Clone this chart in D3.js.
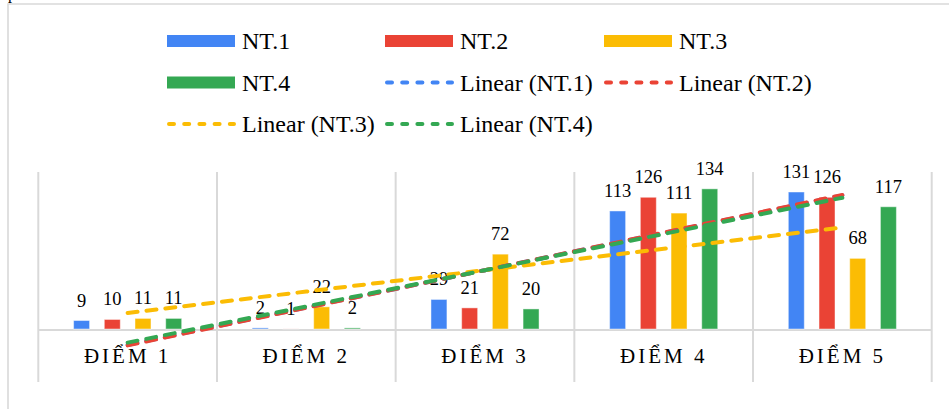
<!DOCTYPE html>
<html>
<head>
<meta charset="utf-8">
<script src="https://cdn.jsdelivr.net/npm/d3@7"></script>
<style>
  html, body { margin: 0; padding: 0; background: #ffffff; }
  svg { display: block; }
  svg text { font-family: 'Liberation Serif', 'Times New Roman', 'DejaVu Serif', serif !important; }
</style>
</head>
<body>
<svg id="chart" width="949" height="409"></svg>
<script>
// ---- data ----
const categories = ["ĐIỂM 1", "ĐIỂM 2", "ĐIỂM 3", "ĐIỂM 4", "ĐIỂM 5"];
const seriesNames = ["NT.1", "NT.2", "NT.3", "NT.4"];
const nt1 = [9, 2, 29, 113, 131];
const nt2 = [10, 1, 21, 126, 126];
const nt3 = [11, 22, 72, 111, 68];
const nt4 = [11, 2, 20, 134, 117];
const seriesColors = ["#4285F4", "#EA4335", "#FBBC04", "#34A853"];

const seriesValues = [nt1, nt2, nt3, nt4];
const series = seriesNames.map((name, i) => ({ name, values: seriesValues[i], color: seriesColors[i] }));

const FONT = "'Liberation Serif', 'Times New Roman', serif";
const svg = d3.select("#chart");

// stray text fragment at the top-left corner
svg.append("text").attr("x", 8).attr("y", -1).attr("font-size", 16)
  .style("font-family", FONT).attr("fill", "#000").text("p");

// outer frame
svg.append("path")
  .attr("d", "M8,420 L8,4 L960,4")
  .attr("fill", "none").attr("stroke", "#d9d9d9").attr("stroke-width", 1.6);

// ---- scales ----
const plotLeft = 38.3, plotRight = 931.7, plotTop = 172, baseY = 330, gridBottom = 382;
const x = d3.scaleBand().domain(categories).range([plotLeft, plotRight]).padding(0);
const x1 = d3.scaleBand().domain(seriesNames).range([0, x.bandwidth()])
  .paddingInner(0.48).paddingOuter(1.15);
const y = d3.scaleLinear().domain([0, 150]).range([baseY, plotTop]);

// ---- gridlines ----
const bounds = categories.map(c => x(c)).concat([plotRight]);
svg.append("g").selectAll("line").data(bounds).join("line")
  .attr("x1", d => d).attr("x2", d => d)
  .attr("y1", plotTop).attr("y2", gridBottom)
  .attr("stroke", "#d9d9d9").attr("stroke-width", 2);
svg.append("line")
  .attr("x1", plotLeft).attr("x2", plotRight)
  .attr("y1", y(0)).attr("y2", y(0))
  .attr("stroke", "#d9d9d9").attr("stroke-width", 2);

// ---- bars ----
const groups = svg.append("g").selectAll("g").data(series).join("g");
groups.selectAll("rect")
  .data(s => s.values.map((v, i) => ({ v, cat: categories[i], s })))
  .join("rect")
  .attr("x", d => x(d.cat) + x1(d.s.name))
  .attr("width", x1.bandwidth())
  .attr("y", d => y(d.v))
  .attr("height", d => y(0) - y(d.v) - 1)
  .attr("fill", d => d.s.color)
  .attr("stroke", "rgba(255,255,255,0.45)")
  .attr("stroke-width", 1);

// ---- data labels ----
groups.selectAll("text.lbl")
  .data(s => s.values.map((v, i) => ({ v, cat: categories[i], s })))
  .join("text").attr("class", "lbl")
  .attr("x", d => x(d.cat) + x1(d.s.name) + x1.bandwidth() / 2)
  .attr("y", d => y(d.v) - 14)
  .attr("text-anchor", "middle")
  .style("font-family", FONT)
  .attr("fill", "#000")
  .attr("font-size", 18.5)
  .text(d => d.v);

// ---- category axis ----
const axis = d3.axisBottom(x).tickSize(0).tickPadding(0);
const gAxis = svg.append("g").attr("transform", `translate(0,${baseY})`).call(axis);
gAxis.select(".domain").remove();
gAxis.selectAll("text")
  .attr("y", 33).attr("dy", null)
  .attr("font-size", 21)
  .style("font-family", FONT)
  .attr("fill", "#000")
  .style("letter-spacing", "3px");

// ---- linear trendlines (least squares over category index 1..5) ----
function linearFit(vals) {
  const xs = vals.map((_, i) => i + 1);
  const mx = d3.mean(xs), my = d3.mean(vals);
  const sxy = d3.sum(xs, (xi, i) => (xi - mx) * (vals[i] - my));
  const sxx = d3.sum(xs, xi => (xi - mx) * (xi - mx));
  const b = sxy / sxx, a = my - b * mx;
  return xs.map(xi => a + b * xi);
}
const line = d3.line()
  .x((d, i) => x(categories[i]) + x.bandwidth() / 2)
  .y(d => y(d));
svg.append("g").selectAll("path").data(series).join("path")
  .attr("d", s => line(linearFit(s.values)))
  .attr("fill", "none")
  .attr("stroke", s => s.color)
  .attr("stroke-width", 4)
  .attr("stroke-dasharray", "10,9")
  .attr("stroke-linecap", "round");

// ---- legend ----
const legendItems = [
  ...series.map(s => ({ label: s.name, color: s.color, dashed: false })),
  ...series.map(s => ({ label: `Linear (${s.name})`, color: s.color, dashed: true }))
];
const colX = [167, 385, 604];
const rowY = [41, 82.5, 124];
const leg = svg.append("g").selectAll("g").data(legendItems).join("g")
  .attr("transform", (d, i) => `translate(${colX[i % 3]},${rowY[Math.floor(i / 3)]})`);
leg.filter(d => !d.dashed).append("rect")
  .attr("x", 0).attr("y", -6).attr("width", 68).attr("height", 12)
  .attr("fill", d => d.color);
leg.filter(d => d.dashed).append("line")
  .attr("x1", 2).attr("x2", 67).attr("y1", 0).attr("y2", 0)
  .attr("stroke", d => d.color).attr("stroke-width", 4)
  .attr("stroke-dasharray", "5,10.2").attr("stroke-linecap", "round");
leg.append("text")
  .attr("x", 75).attr("y", 8)
  .attr("font-size", 24)
  .style("font-family", FONT)
  .attr("fill", "#000")
  .text(d => d.label);
</script>
</body>
</html>
